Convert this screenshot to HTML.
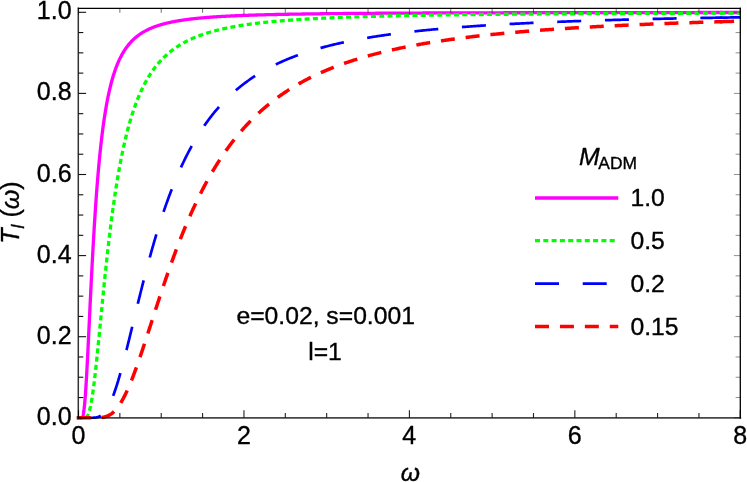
<!DOCTYPE html>
<html><head><meta charset="utf-8"><title>plot</title>
<style>
html,body{margin:0;padding:0;background:#fff;}
body{width:747px;height:482px;overflow:hidden;font-family:"Liberation Sans",sans-serif;}
svg{display:block;will-change:transform}
text{font-family:"Liberation Sans",sans-serif;fill:#000;stroke:#000;stroke-width:0.35px;}
</style></head><body>
<svg width="747" height="482" viewBox="0 0 747 482">
<rect x="0" y="0" width="747" height="482" fill="#fff"/>
<defs><clipPath id="cp"><rect x="76.0" y="8.3" width="664.3" height="411.5"/></clipPath></defs>

<g clip-path="url(#cp)" fill="none" stroke-linejoin="round">
<path d="M76.85,417.80 L78.50,417.80 L78.50,417.80 L78.50,417.80 L78.51,417.80 L78.51,417.80 L78.52,417.80 L78.53,417.80 L78.54,417.80 L78.55,417.80 L78.56,417.80 L78.58,417.80 L78.60,417.80 L78.61,417.80 L78.63,417.80 L78.66,417.80 L78.68,417.80 L78.70,417.80 L78.73,417.80 L78.76,417.80 L78.79,417.80 L78.82,417.80 L78.85,417.80 L78.89,417.80 L78.92,417.80 L78.96,417.80 L79.00,417.80 L79.04,417.80 L79.08,417.80 L79.12,417.80 L79.17,417.80 L79.22,417.80 L79.26,417.80 L79.32,417.80 L79.37,417.80 L79.42,417.80 L79.48,417.80 L79.53,417.80 L79.59,417.80 L79.65,417.80 L79.71,417.80 L79.77,417.80 L79.84,417.80 L79.90,417.80 L79.97,417.80 L80.04,417.80 L80.11,417.80 L80.18,417.80 L80.26,417.80 L80.33,417.80 L80.41,417.80 L80.49,417.80 L80.57,417.80 L80.65,417.80 L80.74,417.80 L80.82,417.79 L80.91,417.79 L81.00,417.79 L81.09,417.78 L81.18,417.77 L81.27,417.76 L81.37,417.74 L81.46,417.71 L81.56,417.68 L81.66,417.64 L81.76,417.59 L81.86,417.52 L81.97,417.43 L82.07,417.33 L82.18,417.21 L82.29,417.05 L82.40,416.87 L82.51,416.66 L82.63,416.40 L82.74,416.11 L82.86,415.77 L82.98,415.38 L83.10,414.93 L83.22,414.42 L83.34,413.85 L83.47,413.21 L83.59,412.49 L83.72,411.70 L83.85,410.82 L83.98,409.86 L84.12,408.81 L84.25,407.67 L84.39,406.43 L84.53,405.09 L84.66,403.65 L84.81,402.10 L84.95,400.45 L85.09,398.69 L85.24,396.83 L85.38,394.86 L85.53,392.78 L85.68,390.59 L85.84,388.29 L85.99,385.89 L86.15,383.38 L86.30,380.77 L86.46,378.06 L86.62,375.25 L86.78,372.34 L86.95,369.34 L87.11,366.25 L87.28,363.08 L87.44,359.82 L87.61,356.48 L87.78,353.07 L87.96,349.59 L88.13,346.05 L88.31,342.44 L88.49,338.77 L88.66,335.06 L88.85,331.29 L89.03,327.48 L89.21,323.63 L89.40,319.75 L89.58,315.83 L89.77,311.89 L89.96,307.93 L90.15,303.95 L90.35,299.95 L90.54,295.95 L90.74,291.94 L90.94,287.93 L91.14,283.92 L91.34,279.92 L91.54,275.92 L91.75,271.94 L91.95,267.97 L92.16,264.01 L92.37,260.08 L92.58,256.17 L92.79,252.29 L93.01,248.43 L93.22,244.60 L93.44,240.80 L93.66,237.04 L93.88,233.31 L94.10,229.62 L94.33,225.97 L94.55,222.35 L94.78,218.78 L95.01,215.25 L95.24,211.76 L95.47,208.31 L95.70,204.91 L95.94,201.55 L96.17,198.24 L96.41,194.98 L96.65,191.76 L96.89,188.58 L97.13,185.46 L97.38,182.38 L97.62,179.35 L97.87,176.37 L98.12,173.43 L98.37,170.54 L98.62,167.70 L98.88,164.91 L99.13,162.16 L99.39,159.46 L99.65,156.80 L99.91,154.19 L100.17,151.63 L100.44,149.11 L100.70,146.64 L100.97,144.21 L101.24,141.82 L101.51,139.48 L101.78,137.18 L102.05,134.92 L102.32,132.71 L102.60,130.53 L102.88,128.40 L103.16,126.30 L103.44,124.25 L103.72,122.23 L104.01,120.26 L104.29,118.32 L104.58,116.41 L104.87,114.55 L105.16,112.72 L105.45,110.92 L105.74,109.16 L106.04,107.44 L106.34,105.75 L106.63,104.09 L106.93,102.46 L107.24,100.86 L107.54,99.30 L107.84,97.76 L108.15,96.26 L108.46,94.79 L108.77,93.34 L109.08,91.92 L109.39,90.53 L109.71,89.17 L110.02,87.84 L110.34,86.53 L110.66,85.24 L110.98,83.99 L111.30,82.75 L111.63,81.54 L111.95,80.36 L112.28,79.20 L112.61,78.06 L112.94,76.94 L113.27,75.84 L113.60,74.77 L113.94,73.72 L114.28,72.68 L114.61,71.67 L114.95,70.68 L115.30,69.70 L115.64,68.75 L115.98,67.81 L116.33,66.89 L116.68,65.99 L117.03,65.11 L117.38,64.24 L117.73,63.40 L118.09,62.56 L118.44,61.74 L118.80,60.94 L119.16,60.16 L119.52,59.39 L119.88,58.63 L120.24,57.89 L120.61,57.16 L120.98,56.44 L121.35,55.74 L121.72,55.06 L122.09,54.38 L122.46,53.72 L122.84,53.07 L123.21,52.43 L123.59,51.80 L123.97,51.19 L124.35,50.59 L124.73,50.00 L125.12,49.42 L125.50,48.85 L125.89,48.29 L126.28,47.74 L126.67,47.20 L127.06,46.67 L127.46,46.15 L127.85,45.64 L128.25,45.14 L128.65,44.64 L129.05,44.16 L129.45,43.69 L129.86,43.22 L130.26,42.76 L130.67,42.31 L131.08,41.87 L131.49,41.44 L131.90,41.01 L132.31,40.59 L132.73,40.18 L133.14,39.78 L133.56,39.38 L133.98,38.99 L134.40,38.61 L134.82,38.23 L135.25,37.86 L135.67,37.50 L136.10,37.14 L136.53,36.79 L136.96,36.45 L137.39,36.11 L137.83,35.77 L138.26,35.45 L138.70,35.12 L139.14,34.81 L139.58,34.50 L140.02,34.19 L140.46,33.89 L140.91,33.59 L141.36,33.30 L141.80,33.02 L142.25,32.73 L142.70,32.46 L143.16,32.19 L143.61,31.92 L144.07,31.65 L144.53,31.40 L144.98,31.14 L145.45,30.89 L145.91,30.64 L146.37,30.40 L146.84,30.16 L147.31,29.93 L147.77,29.70 L148.24,29.47 L148.72,29.25 L149.19,29.03 L149.67,28.81 L150.14,28.60 L150.62,28.39 L151.10,28.18 L151.58,27.98 L152.07,27.78 L152.55,27.58 L153.04,27.39 L153.52,27.20 L154.01,27.01 L154.51,26.82 L155.00,26.64 L155.49,26.46 L155.99,26.29 L156.49,26.11 L156.99,25.94 L157.49,25.77 L157.99,25.61 L158.49,25.44 L159.00,25.28 L159.50,25.12 L160.01,24.97 L160.52,24.81 L161.04,24.66 L161.55,24.51 L162.06,24.36 L162.58,24.22 L163.10,24.08 L163.62,23.94 L164.14,23.80 L164.66,23.66 L165.19,23.53 L165.71,23.39 L166.24,23.26 L166.77,23.14 L167.30,23.01 L167.83,22.88 L168.37,22.76 L168.90,22.64 L169.44,22.52 L169.98,22.40 L170.52,22.28 L171.06,22.17 L171.61,22.06 L172.15,21.94 L172.70,21.84 L173.25,21.73 L173.80,21.62 L174.35,21.51 L174.90,21.41 L175.46,21.31 L176.01,21.21 L176.57,21.11 L177.13,21.01 L177.69,20.91 L178.25,20.82 L178.82,20.72 L179.39,20.63 L179.95,20.54 L180.52,20.45 L181.09,20.36 L181.67,20.27 L182.24,20.18 L182.81,20.10 L183.39,20.01 L183.97,19.93 L184.55,19.85 L185.13,19.77 L185.72,19.69 L186.30,19.61 L186.89,19.53 L187.48,19.45 L188.07,19.38 L188.66,19.30 L189.25,19.23 L189.85,19.16 L190.44,19.08 L191.04,19.01 L191.64,18.94 L192.24,18.87 L192.84,18.80 L193.45,18.74 L194.05,18.67 L194.66,18.60 L195.27,18.54 L195.88,18.48 L196.49,18.41 L197.10,18.35 L197.72,18.29 L198.34,18.23 L198.96,18.17 L199.58,18.11 L200.20,18.05 L200.82,17.99 L201.45,17.93 L202.07,17.88 L202.70,17.82 L203.33,17.77 L203.96,17.71 L204.59,17.66 L205.23,17.61 L205.86,17.55 L206.50,17.50 L207.14,17.45 L207.78,17.40 L208.42,17.35 L209.07,17.30 L209.71,17.25 L210.36,17.20 L211.01,17.16 L211.66,17.11 L212.31,17.06 L212.97,17.02 L213.62,16.97 L214.28,16.93 L214.94,16.88 L215.60,16.84 L216.26,16.80 L216.92,16.75 L217.59,16.71 L218.25,16.67 L218.92,16.63 L219.59,16.59 L220.26,16.55 L220.93,16.51 L221.61,16.47 L222.28,16.43 L222.96,16.39 L223.64,16.35 L224.32,16.32 L225.00,16.28 L225.69,16.24 L226.37,16.21 L227.06,16.17 L227.75,16.13 L228.44,16.10 L229.13,16.07 L229.82,16.03 L230.52,16.00 L231.21,15.96 L231.91,15.93 L232.61,15.90 L233.31,15.87 L234.02,15.83 L234.72,15.80 L235.43,15.77 L236.13,15.74 L236.84,15.71 L237.55,15.68 L238.27,15.65 L238.98,15.62 L239.70,15.59 L240.41,15.56 L241.13,15.53 L241.85,15.50 L242.57,15.48 L243.30,15.45 L244.02,15.42 L244.75,15.39 L245.48,15.37 L246.21,15.34 L246.94,15.31 L247.67,15.29 L248.41,15.26 L249.14,15.24 L249.88,15.21 L250.62,15.19 L251.36,15.16 L252.10,15.14 L252.85,15.11 L253.59,15.09 L254.34,15.07 L255.09,15.04 L255.84,15.02 L256.59,15.00 L257.35,14.98 L258.10,14.95 L258.86,14.93 L259.62,14.91 L260.38,14.89 L261.14,14.87 L261.90,14.84 L262.67,14.82 L263.44,14.80 L264.20,14.78 L264.97,14.76 L265.75,14.74 L266.52,14.72 L267.29,14.70 L268.07,14.68 L268.85,14.66 L269.63,14.64 L270.41,14.63 L271.19,14.61 L271.97,14.59 L272.76,14.57 L273.55,14.55 L274.34,14.53 L275.13,14.52 L275.92,14.50 L276.71,14.48 L277.51,14.46 L278.30,14.45 L279.10,14.43 L279.90,14.41 L280.70,14.40 L281.51,14.38 L282.31,14.36 L283.12,14.35 L283.93,14.33 L284.74,14.31 L285.55,14.30 L286.36,14.28 L287.17,14.27 L287.99,14.25 L288.81,14.24 L289.63,14.22 L290.45,14.21 L291.27,14.19 L292.09,14.18 L292.92,14.16 L293.75,14.15 L294.57,14.14 L295.40,14.12 L296.24,14.11 L297.07,14.09 L297.91,14.08 L298.74,14.07 L299.58,14.05 L300.42,14.04 L301.26,14.03 L302.10,14.01 L302.95,14.00 L303.79,13.99 L304.64,13.98 L305.49,13.96 L306.34,13.95 L307.20,13.94 L308.05,13.93 L308.91,13.91 L309.76,13.90 L310.62,13.89 L311.48,13.88 L312.34,13.87 L313.21,13.86 L314.07,13.85 L314.94,13.83 L315.81,13.82 L316.68,13.81 L317.55,13.80 L318.42,13.79 L319.30,13.78 L320.17,13.77 L321.05,13.76 L321.93,13.75 L322.81,13.74 L323.70,13.73 L324.58,13.72 L325.47,13.71 L326.35,13.70 L327.24,13.69 L328.13,13.68 L329.03,13.67 L329.92,13.66 L330.82,13.65 L331.71,13.64 L332.61,13.63 L333.51,13.62 L334.41,13.61 L335.32,13.60 L336.22,13.59 L337.13,13.58 L338.04,13.57 L338.95,13.56 L339.86,13.56 L340.77,13.55 L341.69,13.54 L342.60,13.53 L343.52,13.52 L344.44,13.51 L345.36,13.50 L346.28,13.50 L347.21,13.49 L348.13,13.48 L349.06,13.47 L349.99,13.46 L350.92,13.46 L351.85,13.45 L352.79,13.44 L353.72,13.43 L354.66,13.43 L355.60,13.42 L356.54,13.41 L357.48,13.40 L358.42,13.40 L359.37,13.39 L360.31,13.38 L361.26,13.37 L362.21,13.37 L363.16,13.36 L364.12,13.35 L365.07,13.34 L366.03,13.34 L366.98,13.33 L367.94,13.32 L368.90,13.32 L369.87,13.31 L370.83,13.30 L371.80,13.30 L372.76,13.29 L373.73,13.28 L374.70,13.28 L375.67,13.27 L376.65,13.27 L377.62,13.26 L378.60,13.25 L379.58,13.25 L380.56,13.24 L381.54,13.23 L382.52,13.23 L383.51,13.22 L384.49,13.22 L385.48,13.21 L386.47,13.20 L387.46,13.20 L388.45,13.19 L389.45,13.19 L390.44,13.18 L391.44,13.18 L392.44,13.17 L393.44,13.17 L394.44,13.16 L395.45,13.15 L396.45,13.15 L397.46,13.14 L398.47,13.14 L399.48,13.13 L400.49,13.13 L401.50,13.12 L402.52,13.12 L403.53,13.11 L404.55,13.11 L405.57,13.10 L406.59,13.10 L407.62,13.09 L408.64,13.09 L409.67,13.08 L410.69,13.08 L411.72,13.07 L412.76,13.07 L413.79,13.06 L414.82,13.06 L415.86,13.05 L416.89,13.05 L417.93,13.05 L418.97,13.04 L420.02,13.04 L421.06,13.03 L422.10,13.03 L423.15,13.02 L424.20,13.02 L425.25,13.01 L426.30,13.01 L427.35,13.01 L428.41,13.00 L429.47,13.00 L430.52,12.99 L431.58,12.99 L432.64,12.98 L433.71,12.98 L434.77,12.98 L435.84,12.97 L436.90,12.97 L437.97,12.96 L439.04,12.96 L440.12,12.96 L441.19,12.95 L442.27,12.95 L443.34,12.95 L444.42,12.94 L445.50,12.94 L446.58,12.93 L447.67,12.93 L448.75,12.93 L449.84,12.92 L450.93,12.92 L452.02,12.92 L453.11,12.91 L454.20,12.91 L455.29,12.90 L456.39,12.90 L457.49,12.90 L458.59,12.89 L459.69,12.89 L460.79,12.89 L461.90,12.88 L463.00,12.88 L464.11,12.88 L465.22,12.87 L466.33,12.87 L467.44,12.87 L468.55,12.86 L469.67,12.86 L470.79,12.86 L471.90,12.85 L473.02,12.85 L474.15,12.85 L475.27,12.85 L476.39,12.84 L477.52,12.84 L478.65,12.84 L479.78,12.83 L480.91,12.83 L482.04,12.83 L483.18,12.82 L484.31,12.82 L485.45,12.82 L486.59,12.82 L487.73,12.81 L488.87,12.81 L490.02,12.81 L491.16,12.80 L492.31,12.80 L493.46,12.80 L494.61,12.80 L495.76,12.79 L496.91,12.79 L498.07,12.79 L499.22,12.79 L500.38,12.78 L501.54,12.78 L502.70,12.78 L503.87,12.77 L505.03,12.77 L506.20,12.77 L507.36,12.77 L508.53,12.76 L509.70,12.76 L510.88,12.76 L512.05,12.76 L513.23,12.75 L514.40,12.75 L515.58,12.75 L516.76,12.75 L517.95,12.74 L519.13,12.74 L520.32,12.74 L521.50,12.74 L522.69,12.74 L523.88,12.73 L525.07,12.73 L526.27,12.73 L527.46,12.73 L528.66,12.72 L529.85,12.72 L531.05,12.72 L532.26,12.72 L533.46,12.72 L534.66,12.71 L535.87,12.71 L537.08,12.71 L538.29,12.71 L539.50,12.70 L540.71,12.70 L541.92,12.70 L543.14,12.70 L544.36,12.70 L545.57,12.69 L546.79,12.69 L548.02,12.69 L549.24,12.69 L550.46,12.69 L551.69,12.68 L552.92,12.68 L554.15,12.68 L555.38,12.68 L556.61,12.68 L557.85,12.67 L559.08,12.67 L560.32,12.67 L561.56,12.67 L562.80,12.67 L564.05,12.66 L565.29,12.66 L566.54,12.66 L567.78,12.66 L569.03,12.66 L570.28,12.66 L571.53,12.65 L572.79,12.65 L574.04,12.65 L575.30,12.65 L576.56,12.65 L577.82,12.64 L579.08,12.64 L580.34,12.64 L581.61,12.64 L582.88,12.64 L584.14,12.64 L585.41,12.63 L586.68,12.63 L587.96,12.63 L589.23,12.63 L590.51,12.63 L591.79,12.63 L593.06,12.62 L594.35,12.62 L595.63,12.62 L596.91,12.62 L598.20,12.62 L599.48,12.62 L600.77,12.61 L602.06,12.61 L603.36,12.61 L604.65,12.61 L605.94,12.61 L607.24,12.61 L608.54,12.61 L609.84,12.60 L611.14,12.60 L612.44,12.60 L613.75,12.60 L615.05,12.60 L616.36,12.60 L617.67,12.60 L618.98,12.59 L620.30,12.59 L621.61,12.59 L622.93,12.59 L624.24,12.59 L625.56,12.59 L626.88,12.59 L628.21,12.58 L629.53,12.58 L630.85,12.58 L632.18,12.58 L633.51,12.58 L634.84,12.58 L636.17,12.58 L637.51,12.57 L638.84,12.57 L640.18,12.57 L641.51,12.57 L642.85,12.57 L644.20,12.57 L645.54,12.57 L646.88,12.57 L648.23,12.56 L649.58,12.56 L650.93,12.56 L652.28,12.56 L653.63,12.56 L654.98,12.56 L656.34,12.56 L657.70,12.56 L659.06,12.55 L660.42,12.55 L661.78,12.55 L663.14,12.55 L664.51,12.55 L665.87,12.55 L667.24,12.55 L668.61,12.55 L669.98,12.55 L671.36,12.54 L672.73,12.54 L674.11,12.54 L675.49,12.54 L676.86,12.54 L678.25,12.54 L679.63,12.54 L681.01,12.54 L682.40,12.54 L683.79,12.53 L685.18,12.53 L686.57,12.53 L687.96,12.53 L689.35,12.53 L690.75,12.53 L692.14,12.53 L693.54,12.53 L694.94,12.53 L696.35,12.53 L697.75,12.52 L699.15,12.52 L700.56,12.52 L701.97,12.52 L703.38,12.52 L704.79,12.52 L706.20,12.52 L707.62,12.52 L709.03,12.52 L710.45,12.52 L711.87,12.51 L713.29,12.51 L714.71,12.51 L716.14,12.51 L717.56,12.51 L718.99,12.51 L720.42,12.51 L721.85,12.51" stroke="#ff00ff" stroke-width="3.3"/>
<path d="M720.20,12.51 L722.40,12.51 L724.61,12.51 L726.81,12.50 L729.01,12.50 L731.22,12.50 L733.42,12.50 L735.62,12.50 L737.83,12.50 L740.03,12.50 L742.23,12.50 L744.44,12.49" stroke="#ff00ff" stroke-width="3.3"/>
<path d="M76.85,417.80 L78.50,417.80 L78.50,417.80 L78.50,417.80 L78.51,417.80 L78.51,417.80 L78.52,417.80 L78.53,417.80 L78.54,417.80 L78.55,417.80 L78.56,417.80 L78.58,417.80 L78.60,417.80 L78.61,417.80 L78.63,417.80 L78.66,417.80 L78.68,417.80 L78.70,417.80 L78.73,417.80 L78.76,417.80 L78.79,417.80 L78.82,417.80 L78.85,417.80 L78.89,417.80 L78.92,417.80 L78.96,417.80 L79.00,417.80 L79.04,417.80 L79.08,417.80 L79.12,417.80 L79.17,417.80 L79.22,417.80 L79.26,417.80 L79.32,417.80 L79.37,417.80 L79.42,417.80 L79.48,417.80 L79.53,417.80 L79.59,417.80 L79.65,417.80 L79.71,417.80 L79.77,417.80 L79.84,417.80 L79.90,417.80 L79.97,417.80 L80.04,417.80 L80.11,417.80 L80.18,417.80 L80.26,417.80 L80.33,417.80 L80.41,417.80 L80.49,417.80 L80.57,417.80 L80.65,417.80 L80.74,417.80 L80.82,417.80 L80.91,417.80 L81.00,417.80 L81.09,417.80 L81.18,417.80 L81.27,417.80 L81.37,417.80 L81.46,417.80 L81.56,417.80 L81.66,417.80 L81.76,417.80 L81.86,417.80 L81.97,417.80 L82.07,417.80 L82.18,417.80 L82.29,417.80 L82.40,417.80 L82.51,417.80 L82.63,417.80 L82.74,417.80 L82.86,417.80 L82.98,417.80 L83.10,417.80 L83.22,417.79 L83.34,417.79 L83.47,417.79 L83.59,417.79 L83.72,417.78 L83.85,417.77 L83.98,417.77 L84.12,417.76 L84.25,417.75 L84.39,417.73 L84.53,417.71 L84.66,417.69 L84.81,417.67 L84.95,417.63 L85.09,417.60 L85.24,417.55 L85.38,417.50 L85.53,417.44 L85.68,417.37 L85.84,417.29 L85.99,417.20 L86.15,417.10 L86.30,416.98 L86.46,416.85 L86.62,416.70 L86.78,416.53 L86.95,416.34 L87.11,416.13 L87.28,415.90 L87.44,415.65 L87.61,415.37 L87.78,415.06 L87.96,414.72 L88.13,414.35 L88.31,413.95 L88.49,413.52 L88.66,413.05 L88.85,412.54 L89.03,412.00 L89.21,411.42 L89.40,410.79 L89.58,410.12 L89.77,409.41 L89.96,408.66 L90.15,407.86 L90.35,407.01 L90.54,406.11 L90.74,405.17 L90.94,404.17 L91.14,403.12 L91.34,402.03 L91.54,400.88 L91.75,399.67 L91.95,398.42 L92.16,397.11 L92.37,395.75 L92.58,394.34 L92.79,392.87 L93.01,391.35 L93.22,389.78 L93.44,388.15 L93.66,386.47 L93.88,384.74 L94.10,382.96 L94.33,381.13 L94.55,379.25 L94.78,377.32 L95.01,375.34 L95.24,373.32 L95.47,371.24 L95.70,369.13 L95.94,366.97 L96.17,364.76 L96.41,362.52 L96.65,360.23 L96.89,357.91 L97.13,355.55 L97.38,353.15 L97.62,350.72 L97.87,348.25 L98.12,345.76 L98.37,343.23 L98.62,340.67 L98.88,338.09 L99.13,335.48 L99.39,332.85 L99.65,330.19 L99.91,327.52 L100.17,324.82 L100.44,322.11 L100.70,319.38 L100.97,316.64 L101.24,313.88 L101.51,311.11 L101.78,308.33 L102.05,305.55 L102.32,302.75 L102.60,299.95 L102.88,297.14 L103.16,294.33 L103.44,291.52 L103.72,288.71 L104.01,285.90 L104.29,283.09 L104.58,280.28 L104.87,277.48 L105.16,274.68 L105.45,271.89 L105.74,269.10 L106.04,266.32 L106.34,263.56 L106.63,260.80 L106.93,258.05 L107.24,255.32 L107.54,252.59 L107.84,249.88 L108.15,247.19 L108.46,244.51 L108.77,241.84 L109.08,239.19 L109.39,236.56 L109.71,233.95 L110.02,231.35 L110.34,228.77 L110.66,226.21 L110.98,223.67 L111.30,221.15 L111.63,218.65 L111.95,216.17 L112.28,213.71 L112.61,211.27 L112.94,208.86 L113.27,206.46 L113.60,204.09 L113.94,201.74 L114.28,199.41 L114.61,197.10 L114.95,194.82 L115.30,192.56 L115.64,190.32 L115.98,188.11 L116.33,185.92 L116.68,183.75 L117.03,181.61 L117.38,179.49 L117.73,177.39 L118.09,175.31 L118.44,173.26 L118.80,171.23 L119.16,169.23 L119.52,167.25 L119.88,165.29 L120.24,163.35 L120.61,161.44 L120.98,159.55 L121.35,157.68 L121.72,155.83 L122.09,154.01 L122.46,152.21 L122.84,150.43 L123.21,148.68 L123.59,146.94 L123.97,145.23 L124.35,143.54 L124.73,141.87 L125.12,140.23 L125.50,138.60 L125.89,136.99 L126.28,135.41 L126.67,133.84 L127.06,132.30 L127.46,130.78 L127.85,129.27 L128.25,127.79 L128.65,126.32 L129.05,124.88 L129.45,123.45 L129.86,122.05 L130.26,120.66 L130.67,119.29 L131.08,117.94 L131.49,116.61 L131.90,115.29 L132.31,113.99 L132.73,112.72 L133.14,111.45 L133.56,110.21 L133.98,108.98 L134.40,107.77 L134.82,106.57 L135.25,105.40 L135.67,104.23 L136.10,103.09 L136.53,101.96 L136.96,100.84 L137.39,99.74 L137.83,98.66 L138.26,97.59 L138.70,96.53 L139.14,95.49 L139.58,94.47 L140.02,93.45 L140.46,92.46 L140.91,91.47 L141.36,90.50 L141.80,89.54 L142.25,88.60 L142.70,87.67 L143.16,86.75 L143.61,85.84 L144.07,84.95 L144.53,84.07 L144.98,83.20 L145.45,82.34 L145.91,81.50 L146.37,80.67 L146.84,79.84 L147.31,79.03 L147.77,78.24 L148.24,77.45 L148.72,76.67 L149.19,75.90 L149.67,75.15 L150.14,74.40 L150.62,73.67 L151.10,72.94 L151.58,72.22 L152.07,71.52 L152.55,70.82 L153.04,70.14 L153.52,69.46 L154.01,68.79 L154.51,68.13 L155.00,67.48 L155.49,66.84 L155.99,66.21 L156.49,65.58 L156.99,64.97 L157.49,64.36 L157.99,63.76 L158.49,63.17 L159.00,62.59 L159.50,62.01 L160.01,61.45 L160.52,60.89 L161.04,60.33 L161.55,59.79 L162.06,59.25 L162.58,58.72 L163.10,58.20 L163.62,57.68 L164.14,57.17 L164.66,56.67 L165.19,56.18 L165.71,55.69 L166.24,55.20 L166.77,54.73 L167.30,54.26 L167.83,53.79 L168.37,53.33 L168.90,52.88 L169.44,52.44 L169.98,52.00 L170.52,51.56 L171.06,51.13 L171.61,50.71 L172.15,50.29 L172.70,49.88 L173.25,49.47 L173.80,49.07 L174.35,48.68 L174.90,48.28 L175.46,47.90 L176.01,47.52 L176.57,47.14 L177.13,46.77 L177.69,46.40 L178.25,46.04 L178.82,45.68 L179.39,45.33 L179.95,44.98 L180.52,44.64 L181.09,44.30 L181.67,43.96 L182.24,43.63 L182.81,43.31 L183.39,42.98 L183.97,42.66 L184.55,42.35 L185.13,42.04 L185.72,41.73 L186.30,41.43 L186.89,41.13 L187.48,40.83 L188.07,40.54 L188.66,40.25 L189.25,39.97 L189.85,39.69 L190.44,39.41 L191.04,39.13 L191.64,38.86 L192.24,38.60 L192.84,38.33 L193.45,38.07 L194.05,37.81 L194.66,37.56 L195.27,37.31 L195.88,37.06 L196.49,36.81 L197.10,36.57 L197.72,36.33 L198.34,36.09 L198.96,35.86 L199.58,35.63 L200.20,35.40 L200.82,35.17 L201.45,34.95 L202.07,34.73 L202.70,34.51 L203.33,34.29 L203.96,34.08 L204.59,33.87 L205.23,33.66 L205.86,33.46 L206.50,33.26 L207.14,33.05 L207.78,32.86 L208.42,32.66 L209.07,32.47 L209.71,32.28 L210.36,32.09 L211.01,31.90 L211.66,31.71 L212.31,31.53 L212.97,31.35 L213.62,31.17 L214.28,31.00 L214.94,30.82 L215.60,30.65 L216.26,30.48 L216.92,30.31 L217.59,30.14 L218.25,29.98 L218.92,29.82 L219.59,29.65 L220.26,29.50 L220.93,29.34 L221.61,29.18 L222.28,29.03 L222.96,28.88 L223.64,28.73 L224.32,28.58 L225.00,28.43 L225.69,28.28 L226.37,28.14 L227.06,28.00 L227.75,27.86 L228.44,27.72 L229.13,27.58 L229.82,27.44 L230.52,27.31 L231.21,27.18 L231.91,27.04 L232.61,26.91 L233.31,26.78 L234.02,26.66 L234.72,26.53 L235.43,26.41 L236.13,26.28 L236.84,26.16 L237.55,26.04 L238.27,25.92 L238.98,25.80 L239.70,25.69 L240.41,25.57 L241.13,25.46 L241.85,25.34 L242.57,25.23 L243.30,25.12 L244.02,25.01 L244.75,24.90 L245.48,24.79 L246.21,24.69 L246.94,24.58 L247.67,24.48 L248.41,24.37 L249.14,24.27 L249.88,24.17 L250.62,24.07 L251.36,23.97 L252.10,23.88 L252.85,23.78 L253.59,23.68 L254.34,23.59 L255.09,23.49 L255.84,23.40 L256.59,23.31 L257.35,23.22 L258.10,23.13 L258.86,23.04 L259.62,22.95 L260.38,22.86 L261.14,22.78 L261.90,22.69 L262.67,22.61 L263.44,22.52 L264.20,22.44 L264.97,22.36 L265.75,22.28 L266.52,22.20 L267.29,22.12 L268.07,22.04 L268.85,21.96 L269.63,21.88 L270.41,21.81 L271.19,21.73 L271.97,21.65 L272.76,21.58 L273.55,21.51 L274.34,21.43 L275.13,21.36 L275.92,21.29 L276.71,21.22 L277.51,21.15 L278.30,21.08 L279.10,21.01 L279.90,20.94 L280.70,20.88 L281.51,20.81 L282.31,20.74 L283.12,20.68 L283.93,20.61 L284.74,20.55 L285.55,20.48 L286.36,20.42 L287.17,20.36 L287.99,20.30 L288.81,20.24 L289.63,20.18 L290.45,20.12 L291.27,20.06 L292.09,20.00 L292.92,19.94 L293.75,19.88 L294.57,19.82 L295.40,19.77 L296.24,19.71 L297.07,19.65 L297.91,19.60 L298.74,19.54 L299.58,19.49 L300.42,19.44 L301.26,19.38 L302.10,19.33 L302.95,19.28 L303.79,19.23 L304.64,19.18 L305.49,19.12 L306.34,19.07 L307.20,19.02 L308.05,18.98 L308.91,18.93 L309.76,18.88 L310.62,18.83 L311.48,18.78 L312.34,18.74 L313.21,18.69 L314.07,18.64 L314.94,18.60 L315.81,18.55 L316.68,18.51 L317.55,18.46 L318.42,18.42 L319.30,18.37 L320.17,18.33 L321.05,18.29 L321.93,18.24 L322.81,18.20 L323.70,18.16 L324.58,18.12 L325.47,18.08 L326.35,18.03 L327.24,17.99 L328.13,17.95 L329.03,17.91 L329.92,17.87 L330.82,17.84 L331.71,17.80 L332.61,17.76 L333.51,17.72 L334.41,17.68 L335.32,17.64 L336.22,17.61 L337.13,17.57 L338.04,17.53 L338.95,17.50 L339.86,17.46 L340.77,17.43 L341.69,17.39 L342.60,17.36 L343.52,17.32 L344.44,17.29 L345.36,17.25 L346.28,17.22 L347.21,17.19 L348.13,17.15 L349.06,17.12 L349.99,17.09 L350.92,17.05 L351.85,17.02 L352.79,16.99 L353.72,16.96 L354.66,16.93 L355.60,16.90 L356.54,16.87 L357.48,16.84 L358.42,16.81 L359.37,16.78 L360.31,16.75 L361.26,16.72 L362.21,16.69 L363.16,16.66 L364.12,16.63 L365.07,16.60 L366.03,16.57 L366.98,16.54 L367.94,16.52 L368.90,16.49 L369.87,16.46 L370.83,16.43 L371.80,16.41 L372.76,16.38 L373.73,16.35 L374.70,16.33 L375.67,16.30 L376.65,16.27 L377.62,16.25 L378.60,16.22 L379.58,16.20 L380.56,16.17 L381.54,16.15 L382.52,16.12 L383.51,16.10 L384.49,16.07 L385.48,16.05 L386.47,16.03 L387.46,16.00 L388.45,15.98 L389.45,15.96 L390.44,15.93 L391.44,15.91 L392.44,15.89 L393.44,15.86 L394.44,15.84 L395.45,15.82 L396.45,15.80 L397.46,15.78 L398.47,15.75 L399.48,15.73 L400.49,15.71 L401.50,15.69 L402.52,15.67 L403.53,15.65 L404.55,15.63 L405.57,15.61 L406.59,15.59 L407.62,15.57 L408.64,15.55 L409.67,15.53 L410.69,15.51 L411.72,15.49 L412.76,15.47 L413.79,15.45 L414.82,15.43 L415.86,15.41 L416.89,15.39 L417.93,15.37 L418.97,15.35 L420.02,15.33 L421.06,15.32 L422.10,15.30 L423.15,15.28 L424.20,15.26 L425.25,15.24 L426.30,15.23 L427.35,15.21 L428.41,15.19 L429.47,15.17 L430.52,15.16 L431.58,15.14 L432.64,15.12 L433.71,15.11 L434.77,15.09 L435.84,15.07 L436.90,15.06 L437.97,15.04 L439.04,15.02 L440.12,15.01 L441.19,14.99 L442.27,14.98 L443.34,14.96 L444.42,14.94 L445.50,14.93 L446.58,14.91 L447.67,14.90 L448.75,14.88 L449.84,14.87 L450.93,14.85 L452.02,14.84 L453.11,14.82 L454.20,14.81 L455.29,14.79 L456.39,14.78 L457.49,14.77 L458.59,14.75 L459.69,14.74 L460.79,14.72 L461.90,14.71 L463.00,14.70 L464.11,14.68 L465.22,14.67 L466.33,14.66 L467.44,14.64 L468.55,14.63 L469.67,14.62 L470.79,14.60 L471.90,14.59 L473.02,14.58 L474.15,14.56 L475.27,14.55 L476.39,14.54 L477.52,14.53 L478.65,14.51 L479.78,14.50 L480.91,14.49 L482.04,14.48 L483.18,14.46 L484.31,14.45 L485.45,14.44 L486.59,14.43 L487.73,14.42 L488.87,14.40 L490.02,14.39 L491.16,14.38 L492.31,14.37 L493.46,14.36 L494.61,14.35 L495.76,14.34 L496.91,14.32 L498.07,14.31 L499.22,14.30 L500.38,14.29 L501.54,14.28 L502.70,14.27 L503.87,14.26 L505.03,14.25 L506.20,14.24 L507.36,14.23 L508.53,14.22 L509.70,14.21 L510.88,14.20 L512.05,14.19 L513.23,14.18 L514.40,14.17 L515.58,14.16 L516.76,14.15 L517.95,14.14 L519.13,14.13 L520.32,14.12 L521.50,14.11 L522.69,14.10 L523.88,14.09 L525.07,14.08 L526.27,14.07 L527.46,14.06 L528.66,14.05 L529.85,14.04 L531.05,14.03 L532.26,14.02 L533.46,14.01 L534.66,14.00 L535.87,14.00 L537.08,13.99 L538.29,13.98 L539.50,13.97 L540.71,13.96 L541.92,13.95 L543.14,13.94 L544.36,13.93 L545.57,13.93 L546.79,13.92 L548.02,13.91 L549.24,13.90 L550.46,13.89 L551.69,13.88 L552.92,13.88 L554.15,13.87 L555.38,13.86 L556.61,13.85 L557.85,13.84 L559.08,13.84 L560.32,13.83 L561.56,13.82 L562.80,13.81 L564.05,13.80 L565.29,13.80 L566.54,13.79 L567.78,13.78 L569.03,13.77 L570.28,13.77 L571.53,13.76 L572.79,13.75 L574.04,13.74 L575.30,13.74 L576.56,13.73 L577.82,13.72 L579.08,13.72 L580.34,13.71 L581.61,13.70 L582.88,13.69 L584.14,13.69 L585.41,13.68 L586.68,13.67 L587.96,13.67 L589.23,13.66 L590.51,13.65 L591.79,13.65 L593.06,13.64 L594.35,13.63 L595.63,13.63 L596.91,13.62 L598.20,13.61 L599.48,13.61 L600.77,13.60 L602.06,13.59 L603.36,13.59 L604.65,13.58 L605.94,13.58 L607.24,13.57 L608.54,13.56 L609.84,13.56 L611.14,13.55 L612.44,13.54 L613.75,13.54 L615.05,13.53 L616.36,13.53 L617.67,13.52 L618.98,13.52 L620.30,13.51 L621.61,13.50 L622.93,13.50 L624.24,13.49 L625.56,13.49 L626.88,13.48 L628.21,13.47 L629.53,13.47 L630.85,13.46 L632.18,13.46 L633.51,13.45 L634.84,13.45 L636.17,13.44 L637.51,13.44 L638.84,13.43 L640.18,13.43 L641.51,13.42 L642.85,13.41 L644.20,13.41 L645.54,13.40 L646.88,13.40 L648.23,13.39 L649.58,13.39 L650.93,13.38 L652.28,13.38 L653.63,13.37 L654.98,13.37 L656.34,13.36 L657.70,13.36 L659.06,13.35 L660.42,13.35 L661.78,13.34 L663.14,13.34 L664.51,13.33 L665.87,13.33 L667.24,13.32 L668.61,13.32 L669.98,13.31 L671.36,13.31 L672.73,13.31 L674.11,13.30 L675.49,13.30 L676.86,13.29 L678.25,13.29 L679.63,13.28 L681.01,13.28 L682.40,13.27 L683.79,13.27 L685.18,13.26 L686.57,13.26 L687.96,13.26 L689.35,13.25 L690.75,13.25 L692.14,13.24 L693.54,13.24 L694.94,13.23 L696.35,13.23 L697.75,13.23 L699.15,13.22 L700.56,13.22 L701.97,13.21 L703.38,13.21 L704.79,13.21 L706.20,13.20 L707.62,13.20 L709.03,13.19 L710.45,13.19 L711.87,13.19 L713.29,13.18 L714.71,13.18 L716.14,13.17 L717.56,13.17 L718.99,13.17 L720.42,13.16 L721.85,13.16" stroke="#00ff00" stroke-width="3.3" stroke-dasharray="5 3.30"/>
<path d="M720.20,13.16 L722.40,13.16 L724.61,13.15 L726.81,13.15 L729.01,13.14 L731.22,13.13 L733.42,13.13 L735.62,13.12 L737.83,13.12 L740.03,13.11 L742.23,13.11 L744.44,13.10" stroke="#00ff00" stroke-width="3.3" stroke-dasharray="5 3.30"/>
<path d="M77.15,417.80 L78.50,417.80 L78.50,417.80 L78.50,417.80 L78.51,417.80 L78.51,417.80 L78.52,417.80 L78.53,417.80 L78.54,417.80 L78.55,417.80 L78.56,417.80 L78.58,417.80 L78.60,417.80 L78.61,417.80 L78.63,417.80 L78.66,417.80 L78.68,417.80 L78.70,417.80 L78.73,417.80 L78.76,417.80 L78.79,417.80 L78.82,417.80 L78.85,417.80 L78.89,417.80 L78.92,417.80 L78.96,417.80 L79.00,417.80 L79.04,417.80 L79.08,417.80 L79.12,417.80 L79.17,417.80 L79.22,417.80 L79.26,417.80 L79.32,417.80 L79.37,417.80 L79.42,417.80 L79.48,417.80 L79.53,417.80 L79.59,417.80 L79.65,417.80 L79.71,417.80 L79.77,417.80 L79.84,417.80 L79.90,417.80 L79.97,417.80 L80.04,417.80 L80.11,417.80 L80.18,417.80 L80.26,417.80 L80.33,417.80 L80.41,417.80 L80.49,417.80 L80.57,417.80 L80.65,417.80 L80.74,417.80 L80.82,417.80 L80.91,417.80 L81.00,417.80 L81.09,417.80 L81.18,417.80 L81.27,417.80 L81.37,417.80 L81.46,417.80 L81.56,417.80 L81.66,417.80 L81.76,417.80 L81.86,417.80 L81.97,417.80 L82.07,417.80 L82.18,417.80 L82.29,417.80 L82.40,417.80 L82.51,417.80 L82.63,417.80 L82.74,417.80 L82.86,417.80 L82.98,417.80 L83.10,417.80 L83.22,417.80 L83.34,417.80 L83.47,417.80 L83.59,417.80 L83.72,417.80 L83.85,417.80 L83.98,417.80 L84.12,417.80 L84.25,417.80 L84.39,417.80 L84.53,417.80 L84.66,417.80 L84.81,417.80 L84.95,417.80 L85.09,417.80 L85.24,417.80 L85.38,417.80 L85.53,417.80 L85.68,417.80 L85.84,417.80 L85.99,417.80 L86.15,417.80 L86.30,417.80 L86.46,417.80 L86.62,417.80 L86.78,417.80 L86.95,417.80 L87.11,417.80 L87.28,417.80 L87.44,417.80 L87.61,417.80 L87.78,417.80 L87.96,417.80 L88.13,417.80 L88.31,417.80 L88.49,417.80 L88.66,417.80 L88.85,417.80 L89.03,417.80 L89.21,417.80 L89.40,417.80 L89.58,417.80 L89.77,417.80 L89.96,417.80 L90.15,417.80 L90.35,417.79 L90.54,417.79 L90.74,417.79 L90.94,417.79 L91.14,417.79 L91.34,417.78 L91.54,417.78 L91.75,417.78 L91.95,417.77 L92.16,417.77 L92.37,417.76 L92.58,417.76 L92.79,417.75 L93.01,417.74 L93.22,417.73 L93.44,417.72 L93.66,417.71 L93.88,417.69 L94.10,417.68 L94.33,417.66 L94.55,417.64 L94.78,417.62 L95.01,417.59 L95.24,417.57 L95.47,417.54 L95.70,417.50 L95.94,417.47 L96.17,417.43 L96.41,417.38 L96.65,417.34 L96.89,417.28 L97.13,417.23 L97.38,417.16 L97.62,417.10 L97.87,417.02 L98.12,416.94 L98.37,416.86 L98.62,416.77 L98.88,416.67 L99.13,416.56 L99.39,416.45 L99.65,416.33 L99.91,416.19 L100.17,416.06 L100.44,415.91 L100.70,415.75 L100.97,415.58 L101.24,415.40 L101.51,415.21 L101.78,415.01 L102.05,414.80 L102.32,414.57 L102.60,414.33 L102.88,414.08 L103.16,413.82 L103.44,413.54 L103.72,413.25 L104.01,412.95 L104.29,412.63 L104.58,412.29 L104.87,411.94 L105.16,411.57 L105.45,411.19 L105.74,410.79 L106.04,410.37 L106.34,409.94 L106.63,409.49 L106.93,409.02 L107.24,408.53 L107.54,408.02 L107.84,407.50 L108.15,406.95 L108.46,406.39 L108.77,405.81 L109.08,405.20 L109.39,404.58 L109.71,403.94 L110.02,403.27 L110.34,402.59 L110.66,401.89 L110.98,401.16 L111.30,400.42 L111.63,399.65 L111.95,398.86 L112.28,398.05 L112.61,397.22 L112.94,396.37 L113.27,395.50 L113.60,394.60 L113.94,393.69 L114.28,392.75 L114.61,391.79 L114.95,390.81 L115.30,389.81 L115.64,388.79 L115.98,387.75 L116.33,386.69 L116.68,385.60 L117.03,384.50 L117.38,383.37 L117.73,382.23 L118.09,381.06 L118.44,379.88 L118.80,378.67 L119.16,377.45 L119.52,376.20 L119.88,374.94 L120.24,373.66 L120.61,372.36 L120.98,371.04 L121.35,369.70 L121.72,368.35 L122.09,366.98 L122.46,365.59 L122.84,364.18 L123.21,362.76 L123.59,361.33 L123.97,359.87 L124.35,358.40 L124.73,356.92 L125.12,355.42 L125.50,353.91 L125.89,352.38 L126.28,350.84 L126.67,349.28 L127.06,347.71 L127.46,346.13 L127.85,344.54 L128.25,342.94 L128.65,341.32 L129.05,339.70 L129.45,338.06 L129.86,336.41 L130.26,334.76 L130.67,333.09 L131.08,331.42 L131.49,329.73 L131.90,328.04 L132.31,326.34 L132.73,324.63 L133.14,322.92 L133.56,321.20 L133.98,319.47 L134.40,317.74 L134.82,316.00 L135.25,314.25 L135.67,312.50 L136.10,310.75 L136.53,308.99 L136.96,307.23 L137.39,305.47 L137.83,303.70 L138.26,301.93 L138.70,300.16 L139.14,298.38 L139.58,296.61 L140.02,294.83 L140.46,293.05 L140.91,291.28 L141.36,289.50 L141.80,287.72 L142.25,285.94 L142.70,284.16 L143.16,282.39 L143.61,280.61 L144.07,278.84 L144.53,277.06 L144.98,275.29 L145.45,273.53 L145.91,271.76 L146.37,270.00 L146.84,268.24 L147.31,266.48 L147.77,264.73 L148.24,262.98 L148.72,261.24 L149.19,259.50 L149.67,257.77 L150.14,256.03 L150.62,254.31 L151.10,252.59 L151.58,250.87 L152.07,249.16 L152.55,247.46 L153.04,245.76 L153.52,244.07 L154.01,242.38 L154.51,240.71 L155.00,239.03 L155.49,237.37 L155.99,235.71 L156.49,234.06 L156.99,232.41 L157.49,230.77 L157.99,229.14 L158.49,227.52 L159.00,225.90 L159.50,224.30 L160.01,222.70 L160.52,221.11 L161.04,219.52 L161.55,217.95 L162.06,216.38 L162.58,214.82 L163.10,213.27 L163.62,211.73 L164.14,210.19 L164.66,208.67 L165.19,207.15 L165.71,205.65 L166.24,204.15 L166.77,202.66 L167.30,201.18 L167.83,199.71 L168.37,198.24 L168.90,196.79 L169.44,195.34 L169.98,193.91 L170.52,192.48 L171.06,191.07 L171.61,189.66 L172.15,188.26 L172.70,186.87 L173.25,185.49 L173.80,184.12 L174.35,182.76 L174.90,181.41 L175.46,180.06 L176.01,178.73 L176.57,177.40 L177.13,176.09 L177.69,174.78 L178.25,173.49 L178.82,172.20 L179.39,170.92 L179.95,169.65 L180.52,168.39 L181.09,167.14 L181.67,165.90 L182.24,164.67 L182.81,163.45 L183.39,162.24 L183.97,161.03 L184.55,159.84 L185.13,158.65 L185.72,157.47 L186.30,156.31 L186.89,155.15 L187.48,154.00 L188.07,152.86 L188.66,151.72 L189.25,150.60 L189.85,149.49 L190.44,148.38 L191.04,147.28 L191.64,146.20 L192.24,145.12 L192.84,144.05 L193.45,142.98 L194.05,141.93 L194.66,140.89 L195.27,139.85 L195.88,138.82 L196.49,137.80 L197.10,136.79 L197.72,135.79 L198.34,134.79 L198.96,133.81 L199.58,132.83 L200.20,131.86 L200.82,130.89 L201.45,129.94 L202.07,128.99 L202.70,128.06 L203.33,127.12 L203.96,126.20 L204.59,125.29 L205.23,124.38 L205.86,123.48 L206.50,122.59 L207.14,121.70 L207.78,120.83 L208.42,119.96 L209.07,119.09 L209.71,118.24 L210.36,117.39 L211.01,116.55 L211.66,115.72 L212.31,114.89 L212.97,114.07 L213.62,113.26 L214.28,112.46 L214.94,111.66 L215.60,110.87 L216.26,110.08 L216.92,109.31 L217.59,108.53 L218.25,107.77 L218.92,107.01 L219.59,106.26 L220.26,105.52 L220.93,104.78 L221.61,104.05 L222.28,103.32 L222.96,102.60 L223.64,101.89 L224.32,101.18 L225.00,100.48 L225.69,99.79 L226.37,99.10 L227.06,98.42 L227.75,97.74 L228.44,97.07 L229.13,96.41 L229.82,95.75 L230.52,95.10 L231.21,94.45 L231.91,93.81 L232.61,93.17 L233.31,92.54 L234.02,91.92 L234.72,91.30 L235.43,90.68 L236.13,90.07 L236.84,89.47 L237.55,88.87 L238.27,88.28 L238.98,87.69 L239.70,87.11 L240.41,86.53 L241.13,85.96 L241.85,85.39 L242.57,84.83 L243.30,84.27 L244.02,83.72 L244.75,83.17 L245.48,82.63 L246.21,82.09 L246.94,81.56 L247.67,81.03 L248.41,80.51 L249.14,79.99 L249.88,79.47 L250.62,78.96 L251.36,78.45 L252.10,77.95 L252.85,77.46 L253.59,76.96 L254.34,76.47 L255.09,75.99 L255.84,75.51 L256.59,75.03 L257.35,74.56 L258.10,74.09 L258.86,73.63 L259.62,73.17 L260.38,72.71 L261.14,72.26 L261.90,71.81 L262.67,71.37 L263.44,70.93 L264.20,70.49 L264.97,70.06 L265.75,69.63 L266.52,69.21 L267.29,68.79 L268.07,68.37 L268.85,67.95 L269.63,67.54 L270.41,67.14 L271.19,66.73 L271.97,66.33 L272.76,65.94 L273.55,65.54 L274.34,65.15 L275.13,64.77 L275.92,64.38 L276.71,64.00 L277.51,63.63 L278.30,63.25 L279.10,62.88 L279.90,62.52 L280.70,62.15 L281.51,61.79 L282.31,61.43 L283.12,61.08 L283.93,60.73 L284.74,60.38 L285.55,60.03 L286.36,59.69 L287.17,59.35 L287.99,59.01 L288.81,58.68 L289.63,58.35 L290.45,58.02 L291.27,57.69 L292.09,57.37 L292.92,57.05 L293.75,56.73 L294.57,56.42 L295.40,56.11 L296.24,55.80 L297.07,55.49 L297.91,55.18 L298.74,54.88 L299.58,54.58 L300.42,54.29 L301.26,53.99 L302.10,53.70 L302.95,53.41 L303.79,53.12 L304.64,52.84 L305.49,52.56 L306.34,52.28 L307.20,52.00 L308.05,51.72 L308.91,51.45 L309.76,51.18 L310.62,50.91 L311.48,50.64 L312.34,50.38 L313.21,50.12 L314.07,49.86 L314.94,49.60 L315.81,49.34 L316.68,49.09 L317.55,48.84 L318.42,48.59 L319.30,48.34 L320.17,48.10 L321.05,47.85 L321.93,47.61 L322.81,47.37 L323.70,47.14 L324.58,46.90 L325.47,46.67 L326.35,46.44 L327.24,46.21 L328.13,45.98 L329.03,45.75 L329.92,45.53 L330.82,45.31 L331.71,45.08 L332.61,44.87 L333.51,44.65 L334.41,44.43 L335.32,44.22 L336.22,44.01 L337.13,43.80 L338.04,43.59 L338.95,43.38 L339.86,43.18 L340.77,42.97 L341.69,42.77 L342.60,42.57 L343.52,42.37 L344.44,42.17 L345.36,41.98 L346.28,41.78 L347.21,41.59 L348.13,41.40 L349.06,41.21 L349.99,41.02 L350.92,40.84 L351.85,40.65 L352.79,40.47 L353.72,40.29 L354.66,40.11 L355.60,39.93 L356.54,39.75 L357.48,39.57 L358.42,39.40 L359.37,39.22 L360.31,39.05 L361.26,38.88 L362.21,38.71 L363.16,38.54 L364.12,38.37 L365.07,38.21 L366.03,38.04 L366.98,37.88 L367.94,37.72 L368.90,37.56 L369.87,37.40 L370.83,37.24 L371.80,37.08 L372.76,36.93 L373.73,36.77 L374.70,36.62 L375.67,36.46 L376.65,36.31 L377.62,36.16 L378.60,36.01 L379.58,35.87 L380.56,35.72 L381.54,35.57 L382.52,35.43 L383.51,35.29 L384.49,35.14 L385.48,35.00 L386.47,34.86 L387.46,34.72 L388.45,34.58 L389.45,34.45 L390.44,34.31 L391.44,34.18 L392.44,34.04 L393.44,33.91 L394.44,33.78 L395.45,33.65 L396.45,33.52 L397.46,33.39 L398.47,33.26 L399.48,33.13 L400.49,33.01 L401.50,32.88 L402.52,32.76 L403.53,32.63 L404.55,32.51 L405.57,32.39 L406.59,32.27 L407.62,32.15 L408.64,32.03 L409.67,31.91 L410.69,31.79 L411.72,31.68 L412.76,31.56 L413.79,31.45 L414.82,31.33 L415.86,31.22 L416.89,31.11 L417.93,31.00 L418.97,30.89 L420.02,30.78 L421.06,30.67 L422.10,30.56 L423.15,30.45 L424.20,30.35 L425.25,30.24 L426.30,30.13 L427.35,30.03 L428.41,29.93 L429.47,29.82 L430.52,29.72 L431.58,29.62 L432.64,29.52 L433.71,29.42 L434.77,29.32 L435.84,29.22 L436.90,29.12 L437.97,29.03 L439.04,28.93 L440.12,28.83 L441.19,28.74 L442.27,28.65 L443.34,28.55 L444.42,28.46 L445.50,28.37 L446.58,28.27 L447.67,28.18 L448.75,28.09 L449.84,28.00 L450.93,27.91 L452.02,27.82 L453.11,27.74 L454.20,27.65 L455.29,27.56 L456.39,27.48 L457.49,27.39 L458.59,27.31 L459.69,27.22 L460.79,27.14 L461.90,27.05 L463.00,26.97 L464.11,26.89 L465.22,26.81 L466.33,26.73 L467.44,26.65 L468.55,26.57 L469.67,26.49 L470.79,26.41 L471.90,26.33 L473.02,26.25 L474.15,26.18 L475.27,26.10 L476.39,26.02 L477.52,25.95 L478.65,25.87 L479.78,25.80 L480.91,25.72 L482.04,25.65 L483.18,25.58 L484.31,25.50 L485.45,25.43 L486.59,25.36 L487.73,25.29 L488.87,25.22 L490.02,25.15 L491.16,25.08 L492.31,25.01 L493.46,24.94 L494.61,24.87 L495.76,24.80 L496.91,24.74 L498.07,24.67 L499.22,24.60 L500.38,24.54 L501.54,24.47 L502.70,24.41 L503.87,24.34 L505.03,24.28 L506.20,24.21 L507.36,24.15 L508.53,24.09 L509.70,24.02 L510.88,23.96 L512.05,23.90 L513.23,23.84 L514.40,23.78 L515.58,23.72 L516.76,23.66 L517.95,23.60 L519.13,23.54 L520.32,23.48 L521.50,23.42 L522.69,23.36 L523.88,23.30 L525.07,23.25 L526.27,23.19 L527.46,23.13 L528.66,23.07 L529.85,23.02 L531.05,22.96 L532.26,22.91 L533.46,22.85 L534.66,22.80 L535.87,22.74 L537.08,22.69 L538.29,22.64 L539.50,22.58 L540.71,22.53 L541.92,22.48 L543.14,22.42 L544.36,22.37 L545.57,22.32 L546.79,22.27 L548.02,22.22 L549.24,22.17 L550.46,22.12 L551.69,22.07 L552.92,22.02 L554.15,21.97 L555.38,21.92 L556.61,21.87 L557.85,21.82 L559.08,21.77 L560.32,21.73 L561.56,21.68 L562.80,21.63 L564.05,21.58 L565.29,21.54 L566.54,21.49 L567.78,21.45 L569.03,21.40 L570.28,21.35 L571.53,21.31 L572.79,21.26 L574.04,21.22 L575.30,21.17 L576.56,21.13 L577.82,21.09 L579.08,21.04 L580.34,21.00 L581.61,20.96 L582.88,20.91 L584.14,20.87 L585.41,20.83 L586.68,20.79 L587.96,20.75 L589.23,20.70 L590.51,20.66 L591.79,20.62 L593.06,20.58 L594.35,20.54 L595.63,20.50 L596.91,20.46 L598.20,20.42 L599.48,20.38 L600.77,20.34 L602.06,20.30 L603.36,20.26 L604.65,20.22 L605.94,20.19 L607.24,20.15 L608.54,20.11 L609.84,20.07 L611.14,20.04 L612.44,20.00 L613.75,19.96 L615.05,19.92 L616.36,19.89 L617.67,19.85 L618.98,19.82 L620.30,19.78 L621.61,19.74 L622.93,19.71 L624.24,19.67 L625.56,19.64 L626.88,19.60 L628.21,19.57 L629.53,19.53 L630.85,19.50 L632.18,19.47 L633.51,19.43 L634.84,19.40 L636.17,19.36 L637.51,19.33 L638.84,19.30 L640.18,19.27 L641.51,19.23 L642.85,19.20 L644.20,19.17 L645.54,19.14 L646.88,19.10 L648.23,19.07 L649.58,19.04 L650.93,19.01 L652.28,18.98 L653.63,18.95 L654.98,18.92 L656.34,18.89 L657.70,18.85 L659.06,18.82 L660.42,18.79 L661.78,18.76 L663.14,18.73 L664.51,18.70 L665.87,18.68 L667.24,18.65 L668.61,18.62 L669.98,18.59 L671.36,18.56 L672.73,18.53 L674.11,18.50 L675.49,18.47 L676.86,18.45 L678.25,18.42 L679.63,18.39 L681.01,18.36 L682.40,18.33 L683.79,18.31 L685.18,18.28 L686.57,18.25 L687.96,18.23 L689.35,18.20 L690.75,18.17 L692.14,18.15 L693.54,18.12 L694.94,18.09 L696.35,18.07 L697.75,18.04 L699.15,18.02 L700.56,17.99 L701.97,17.97 L703.38,17.94 L704.79,17.91 L706.20,17.89 L707.62,17.86 L709.03,17.84 L710.45,17.82 L711.87,17.79 L713.29,17.77 L714.71,17.74 L716.14,17.72 L717.56,17.69 L718.99,17.67 L720.42,17.65 L721.85,17.62" stroke="#0000ff" stroke-width="2.7" stroke-dasharray="24 23.72"/>
<path d="M720.50,17.65 L722.68,17.61 L724.85,17.57 L727.03,17.54 L729.20,17.50 L731.38,17.47 L733.56,17.44 L735.73,17.40 L737.91,17.37 L740.08,17.34 L742.26,17.30 L744.44,17.27" stroke="#0000ff" stroke-width="2.7" stroke-dasharray="24 23.72"/>
<path d="M76.75,417.80 L78.50,417.80 L78.50,417.80 L78.50,417.80 L78.51,417.80 L78.51,417.80 L78.52,417.80 L78.53,417.80 L78.54,417.80 L78.55,417.80 L78.56,417.80 L78.58,417.80 L78.60,417.80 L78.61,417.80 L78.63,417.80 L78.66,417.80 L78.68,417.80 L78.70,417.80 L78.73,417.80 L78.76,417.80 L78.79,417.80 L78.82,417.80 L78.85,417.80 L78.89,417.80 L78.92,417.80 L78.96,417.80 L79.00,417.80 L79.04,417.80 L79.08,417.80 L79.12,417.80 L79.17,417.80 L79.22,417.80 L79.26,417.80 L79.32,417.80 L79.37,417.80 L79.42,417.80 L79.48,417.80 L79.53,417.80 L79.59,417.80 L79.65,417.80 L79.71,417.80 L79.77,417.80 L79.84,417.80 L79.90,417.80 L79.97,417.80 L80.04,417.80 L80.11,417.80 L80.18,417.80 L80.26,417.80 L80.33,417.80 L80.41,417.80 L80.49,417.80 L80.57,417.80 L80.65,417.80 L80.74,417.80 L80.82,417.80 L80.91,417.80 L81.00,417.80 L81.09,417.80 L81.18,417.80 L81.27,417.80 L81.37,417.80 L81.46,417.80 L81.56,417.80 L81.66,417.80 L81.76,417.80 L81.86,417.80 L81.97,417.80 L82.07,417.80 L82.18,417.80 L82.29,417.80 L82.40,417.80 L82.51,417.80 L82.63,417.80 L82.74,417.80 L82.86,417.80 L82.98,417.80 L83.10,417.80 L83.22,417.80 L83.34,417.80 L83.47,417.80 L83.59,417.80 L83.72,417.80 L83.85,417.80 L83.98,417.80 L84.12,417.80 L84.25,417.80 L84.39,417.80 L84.53,417.80 L84.66,417.80 L84.81,417.80 L84.95,417.80 L85.09,417.80 L85.24,417.80 L85.38,417.80 L85.53,417.80 L85.68,417.80 L85.84,417.80 L85.99,417.80 L86.15,417.80 L86.30,417.80 L86.46,417.80 L86.62,417.80 L86.78,417.80 L86.95,417.80 L87.11,417.80 L87.28,417.80 L87.44,417.80 L87.61,417.80 L87.78,417.80 L87.96,417.80 L88.13,417.80 L88.31,417.80 L88.49,417.80 L88.66,417.80 L88.85,417.80 L89.03,417.80 L89.21,417.80 L89.40,417.80 L89.58,417.80 L89.77,417.80 L89.96,417.80 L90.15,417.80 L90.35,417.80 L90.54,417.80 L90.74,417.80 L90.94,417.80 L91.14,417.80 L91.34,417.80 L91.54,417.80 L91.75,417.80 L91.95,417.80 L92.16,417.80 L92.37,417.80 L92.58,417.80 L92.79,417.80 L93.01,417.80 L93.22,417.80 L93.44,417.80 L93.66,417.80 L93.88,417.80 L94.10,417.79 L94.33,417.79 L94.55,417.79 L94.78,417.79 L95.01,417.79 L95.24,417.79 L95.47,417.79 L95.70,417.78 L95.94,417.78 L96.17,417.78 L96.41,417.77 L96.65,417.77 L96.89,417.76 L97.13,417.76 L97.38,417.75 L97.62,417.75 L97.87,417.74 L98.12,417.73 L98.37,417.72 L98.62,417.71 L98.88,417.70 L99.13,417.69 L99.39,417.67 L99.65,417.66 L99.91,417.64 L100.17,417.62 L100.44,417.60 L100.70,417.58 L100.97,417.55 L101.24,417.52 L101.51,417.49 L101.78,417.46 L102.05,417.43 L102.32,417.39 L102.60,417.35 L102.88,417.30 L103.16,417.26 L103.44,417.20 L103.72,417.15 L104.01,417.09 L104.29,417.03 L104.58,416.96 L104.87,416.89 L105.16,416.81 L105.45,416.73 L105.74,416.64 L106.04,416.54 L106.34,416.44 L106.63,416.34 L106.93,416.23 L107.24,416.11 L107.54,415.98 L107.84,415.85 L108.15,415.71 L108.46,415.56 L108.77,415.41 L109.08,415.24 L109.39,415.07 L109.71,414.89 L110.02,414.70 L110.34,414.50 L110.66,414.29 L110.98,414.07 L111.30,413.85 L111.63,413.61 L111.95,413.36 L112.28,413.10 L112.61,412.83 L112.94,412.55 L113.27,412.26 L113.60,411.95 L113.94,411.63 L114.28,411.31 L114.61,410.96 L114.95,410.61 L115.30,410.24 L115.64,409.86 L115.98,409.47 L116.33,409.06 L116.68,408.64 L117.03,408.21 L117.38,407.76 L117.73,407.30 L118.09,406.82 L118.44,406.33 L118.80,405.83 L119.16,405.31 L119.52,404.77 L119.88,404.22 L120.24,403.65 L120.61,403.07 L120.98,402.48 L121.35,401.87 L121.72,401.24 L122.09,400.59 L122.46,399.94 L122.84,399.26 L123.21,398.57 L123.59,397.86 L123.97,397.14 L124.35,396.40 L124.73,395.65 L125.12,394.88 L125.50,394.09 L125.89,393.29 L126.28,392.47 L126.67,391.64 L127.06,390.79 L127.46,389.92 L127.85,389.04 L128.25,388.14 L128.65,387.23 L129.05,386.30 L129.45,385.35 L129.86,384.39 L130.26,383.42 L130.67,382.43 L131.08,381.42 L131.49,380.40 L131.90,379.37 L132.31,378.32 L132.73,377.25 L133.14,376.17 L133.56,375.08 L133.98,373.97 L134.40,372.85 L134.82,371.71 L135.25,370.56 L135.67,369.40 L136.10,368.23 L136.53,367.04 L136.96,365.84 L137.39,364.62 L137.83,363.39 L138.26,362.16 L138.70,360.90 L139.14,359.64 L139.58,358.37 L140.02,357.08 L140.46,355.79 L140.91,354.48 L141.36,353.16 L141.80,351.83 L142.25,350.49 L142.70,349.14 L143.16,347.79 L143.61,346.42 L144.07,345.04 L144.53,343.65 L144.98,342.26 L145.45,340.86 L145.91,339.45 L146.37,338.03 L146.84,336.60 L147.31,335.17 L147.77,333.72 L148.24,332.28 L148.72,330.82 L149.19,329.36 L149.67,327.89 L150.14,326.42 L150.62,324.94 L151.10,323.46 L151.58,321.97 L152.07,320.47 L152.55,318.98 L153.04,317.47 L153.52,315.96 L154.01,314.45 L154.51,312.94 L155.00,311.42 L155.49,309.90 L155.99,308.38 L156.49,306.85 L156.99,305.32 L157.49,303.79 L157.99,302.26 L158.49,300.72 L159.00,299.18 L159.50,297.65 L160.01,296.11 L160.52,294.57 L161.04,293.03 L161.55,291.48 L162.06,289.94 L162.58,288.40 L163.10,286.86 L163.62,285.32 L164.14,283.78 L164.66,282.24 L165.19,280.70 L165.71,279.17 L166.24,277.63 L166.77,276.09 L167.30,274.56 L167.83,273.03 L168.37,271.50 L168.90,269.98 L169.44,268.45 L169.98,266.93 L170.52,265.41 L171.06,263.89 L171.61,262.38 L172.15,260.87 L172.70,259.36 L173.25,257.86 L173.80,256.36 L174.35,254.86 L174.90,253.37 L175.46,251.88 L176.01,250.40 L176.57,248.92 L177.13,247.44 L177.69,245.97 L178.25,244.50 L178.82,243.04 L179.39,241.58 L179.95,240.13 L180.52,238.68 L181.09,237.24 L181.67,235.80 L182.24,234.37 L182.81,232.94 L183.39,231.52 L183.97,230.10 L184.55,228.69 L185.13,227.29 L185.72,225.89 L186.30,224.50 L186.89,223.11 L187.48,221.73 L188.07,220.35 L188.66,218.98 L189.25,217.62 L189.85,216.26 L190.44,214.91 L191.04,213.57 L191.64,212.23 L192.24,210.90 L192.84,209.57 L193.45,208.25 L194.05,206.94 L194.66,205.64 L195.27,204.34 L195.88,203.05 L196.49,201.76 L197.10,200.48 L197.72,199.21 L198.34,197.94 L198.96,196.68 L199.58,195.43 L200.20,194.19 L200.82,192.95 L201.45,191.72 L202.07,190.50 L202.70,189.28 L203.33,188.07 L203.96,186.86 L204.59,185.67 L205.23,184.48 L205.86,183.30 L206.50,182.12 L207.14,180.95 L207.78,179.79 L208.42,178.64 L209.07,177.49 L209.71,176.35 L210.36,175.21 L211.01,174.09 L211.66,172.97 L212.31,171.86 L212.97,170.75 L213.62,169.65 L214.28,168.56 L214.94,167.47 L215.60,166.40 L216.26,165.33 L216.92,164.26 L217.59,163.20 L218.25,162.15 L218.92,161.11 L219.59,160.07 L220.26,159.04 L220.93,158.02 L221.61,157.01 L222.28,156.00 L222.96,154.99 L223.64,154.00 L224.32,153.01 L225.00,152.03 L225.69,151.05 L226.37,150.08 L227.06,149.12 L227.75,148.16 L228.44,147.21 L229.13,146.27 L229.82,145.33 L230.52,144.40 L231.21,143.48 L231.91,142.56 L232.61,141.65 L233.31,140.75 L234.02,139.85 L234.72,138.96 L235.43,138.08 L236.13,137.20 L236.84,136.32 L237.55,135.46 L238.27,134.60 L238.98,133.74 L239.70,132.90 L240.41,132.05 L241.13,131.22 L241.85,130.39 L242.57,129.56 L243.30,128.75 L244.02,127.94 L244.75,127.13 L245.48,126.33 L246.21,125.53 L246.94,124.75 L247.67,123.96 L248.41,123.19 L249.14,122.42 L249.88,121.65 L250.62,120.89 L251.36,120.14 L252.10,119.39 L252.85,118.64 L253.59,117.91 L254.34,117.17 L255.09,116.45 L255.84,115.72 L256.59,115.01 L257.35,114.30 L258.10,113.59 L258.86,112.89 L259.62,112.20 L260.38,111.51 L261.14,110.82 L261.90,110.14 L262.67,109.47 L263.44,108.80 L264.20,108.13 L264.97,107.47 L265.75,106.82 L266.52,106.17 L267.29,105.52 L268.07,104.88 L268.85,104.25 L269.63,103.62 L270.41,102.99 L271.19,102.37 L271.97,101.76 L272.76,101.15 L273.55,100.54 L274.34,99.94 L275.13,99.34 L275.92,98.75 L276.71,98.16 L277.51,97.57 L278.30,96.99 L279.10,96.42 L279.90,95.85 L280.70,95.28 L281.51,94.72 L282.31,94.16 L283.12,93.60 L283.93,93.05 L284.74,92.51 L285.55,91.97 L286.36,91.43 L287.17,90.90 L287.99,90.37 L288.81,89.84 L289.63,89.32 L290.45,88.80 L291.27,88.29 L292.09,87.78 L292.92,87.27 L293.75,86.77 L294.57,86.27 L295.40,85.78 L296.24,85.29 L297.07,84.80 L297.91,84.32 L298.74,83.84 L299.58,83.36 L300.42,82.89 L301.26,82.42 L302.10,81.96 L302.95,81.50 L303.79,81.04 L304.64,80.58 L305.49,80.13 L306.34,79.69 L307.20,79.24 L308.05,78.80 L308.91,78.36 L309.76,77.93 L310.62,77.50 L311.48,77.07 L312.34,76.65 L313.21,76.22 L314.07,75.81 L314.94,75.39 L315.81,74.98 L316.68,74.57 L317.55,74.16 L318.42,73.76 L319.30,73.36 L320.17,72.97 L321.05,72.57 L321.93,72.18 L322.81,71.79 L323.70,71.41 L324.58,71.03 L325.47,70.65 L326.35,70.27 L327.24,69.90 L328.13,69.53 L329.03,69.16 L329.92,68.80 L330.82,68.43 L331.71,68.07 L332.61,67.72 L333.51,67.36 L334.41,67.01 L335.32,66.66 L336.22,66.32 L337.13,65.97 L338.04,65.63 L338.95,65.29 L339.86,64.96 L340.77,64.62 L341.69,64.29 L342.60,63.96 L343.52,63.64 L344.44,63.31 L345.36,62.99 L346.28,62.67 L347.21,62.35 L348.13,62.04 L349.06,61.73 L349.99,61.42 L350.92,61.11 L351.85,60.81 L352.79,60.50 L353.72,60.20 L354.66,59.90 L355.60,59.61 L356.54,59.31 L357.48,59.02 L358.42,58.73 L359.37,58.44 L360.31,58.16 L361.26,57.88 L362.21,57.59 L363.16,57.31 L364.12,57.04 L365.07,56.76 L366.03,56.49 L366.98,56.22 L367.94,55.95 L368.90,55.68 L369.87,55.42 L370.83,55.15 L371.80,54.89 L372.76,54.63 L373.73,54.37 L374.70,54.12 L375.67,53.86 L376.65,53.61 L377.62,53.36 L378.60,53.11 L379.58,52.87 L380.56,52.62 L381.54,52.38 L382.52,52.14 L383.51,51.90 L384.49,51.66 L385.48,51.42 L386.47,51.19 L387.46,50.95 L388.45,50.72 L389.45,50.49 L390.44,50.27 L391.44,50.04 L392.44,49.81 L393.44,49.59 L394.44,49.37 L395.45,49.15 L396.45,48.93 L397.46,48.71 L398.47,48.50 L399.48,48.29 L400.49,48.07 L401.50,47.86 L402.52,47.65 L403.53,47.45 L404.55,47.24 L405.57,47.03 L406.59,46.83 L407.62,46.63 L408.64,46.43 L409.67,46.23 L410.69,46.03 L411.72,45.83 L412.76,45.64 L413.79,45.45 L414.82,45.25 L415.86,45.06 L416.89,44.87 L417.93,44.68 L418.97,44.50 L420.02,44.31 L421.06,44.13 L422.10,43.94 L423.15,43.76 L424.20,43.58 L425.25,43.40 L426.30,43.22 L427.35,43.05 L428.41,42.87 L429.47,42.70 L430.52,42.52 L431.58,42.35 L432.64,42.18 L433.71,42.01 L434.77,41.84 L435.84,41.68 L436.90,41.51 L437.97,41.35 L439.04,41.18 L440.12,41.02 L441.19,40.86 L442.27,40.70 L443.34,40.54 L444.42,40.38 L445.50,40.22 L446.58,40.06 L447.67,39.91 L448.75,39.75 L449.84,39.60 L450.93,39.45 L452.02,39.30 L453.11,39.15 L454.20,39.00 L455.29,38.85 L456.39,38.70 L457.49,38.56 L458.59,38.41 L459.69,38.27 L460.79,38.13 L461.90,37.98 L463.00,37.84 L464.11,37.70 L465.22,37.56 L466.33,37.42 L467.44,37.29 L468.55,37.15 L469.67,37.01 L470.79,36.88 L471.90,36.75 L473.02,36.61 L474.15,36.48 L475.27,36.35 L476.39,36.22 L477.52,36.09 L478.65,35.96 L479.78,35.83 L480.91,35.71 L482.04,35.58 L483.18,35.46 L484.31,35.33 L485.45,35.21 L486.59,35.08 L487.73,34.96 L488.87,34.84 L490.02,34.72 L491.16,34.60 L492.31,34.48 L493.46,34.36 L494.61,34.25 L495.76,34.13 L496.91,34.01 L498.07,33.90 L499.22,33.78 L500.38,33.67 L501.54,33.56 L502.70,33.45 L503.87,33.33 L505.03,33.22 L506.20,33.11 L507.36,33.00 L508.53,32.90 L509.70,32.79 L510.88,32.68 L512.05,32.57 L513.23,32.47 L514.40,32.36 L515.58,32.26 L516.76,32.15 L517.95,32.05 L519.13,31.95 L520.32,31.85 L521.50,31.75 L522.69,31.65 L523.88,31.55 L525.07,31.45 L526.27,31.35 L527.46,31.25 L528.66,31.15 L529.85,31.05 L531.05,30.96 L532.26,30.86 L533.46,30.77 L534.66,30.67 L535.87,30.58 L537.08,30.49 L538.29,30.39 L539.50,30.30 L540.71,30.21 L541.92,30.12 L543.14,30.03 L544.36,29.94 L545.57,29.85 L546.79,29.76 L548.02,29.67 L549.24,29.59 L550.46,29.50 L551.69,29.41 L552.92,29.33 L554.15,29.24 L555.38,29.16 L556.61,29.07 L557.85,28.99 L559.08,28.90 L560.32,28.82 L561.56,28.74 L562.80,28.66 L564.05,28.58 L565.29,28.49 L566.54,28.41 L567.78,28.33 L569.03,28.25 L570.28,28.18 L571.53,28.10 L572.79,28.02 L574.04,27.94 L575.30,27.87 L576.56,27.79 L577.82,27.71 L579.08,27.64 L580.34,27.56 L581.61,27.49 L582.88,27.41 L584.14,27.34 L585.41,27.27 L586.68,27.19 L587.96,27.12 L589.23,27.05 L590.51,26.98 L591.79,26.91 L593.06,26.83 L594.35,26.76 L595.63,26.69 L596.91,26.62 L598.20,26.56 L599.48,26.49 L600.77,26.42 L602.06,26.35 L603.36,26.28 L604.65,26.22 L605.94,26.15 L607.24,26.08 L608.54,26.02 L609.84,25.95 L611.14,25.89 L612.44,25.82 L613.75,25.76 L615.05,25.69 L616.36,25.63 L617.67,25.57 L618.98,25.50 L620.30,25.44 L621.61,25.38 L622.93,25.32 L624.24,25.26 L625.56,25.19 L626.88,25.13 L628.21,25.07 L629.53,25.01 L630.85,24.95 L632.18,24.89 L633.51,24.84 L634.84,24.78 L636.17,24.72 L637.51,24.66 L638.84,24.60 L640.18,24.55 L641.51,24.49 L642.85,24.43 L644.20,24.38 L645.54,24.32 L646.88,24.26 L648.23,24.21 L649.58,24.15 L650.93,24.10 L652.28,24.04 L653.63,23.99 L654.98,23.94 L656.34,23.88 L657.70,23.83 L659.06,23.78 L660.42,23.72 L661.78,23.67 L663.14,23.62 L664.51,23.57 L665.87,23.52 L667.24,23.47 L668.61,23.42 L669.98,23.36 L671.36,23.31 L672.73,23.26 L674.11,23.21 L675.49,23.17 L676.86,23.12 L678.25,23.07 L679.63,23.02 L681.01,22.97 L682.40,22.92 L683.79,22.87 L685.18,22.83 L686.57,22.78 L687.96,22.73 L689.35,22.69 L690.75,22.64 L692.14,22.59 L693.54,22.55 L694.94,22.50 L696.35,22.46 L697.75,22.41 L699.15,22.37 L700.56,22.32 L701.97,22.28 L703.38,22.23 L704.79,22.19 L706.20,22.14 L707.62,22.10 L709.03,22.06 L710.45,22.01 L711.87,21.97 L713.29,21.93 L714.71,21.89 L716.14,21.85 L717.56,21.80 L718.99,21.76 L720.42,21.72 L721.85,21.68" stroke="#ff0000" stroke-width="3.5" stroke-dasharray="14 10.92"/>
<path d="M720.10,21.73 L722.31,21.67 L724.52,21.60 L726.74,21.54 L728.95,21.48 L731.16,21.42 L733.37,21.36 L735.59,21.30 L737.80,21.24 L740.01,21.18 L742.22,21.12 L744.44,21.06" stroke="#ff0000" stroke-width="3.5" stroke-dasharray="14 10.92"/>
</g>
<g><line x1="78.50" y1="417.8" x2="78.50" y2="410.2" stroke="#222" stroke-width="1.1"/>
<line x1="78.50" y1="8.3" x2="78.50" y2="14.5" stroke="#111" stroke-width="0.6"/>
<line x1="119.86" y1="417.8" x2="119.86" y2="413.0" stroke="#222" stroke-width="1.1"/>
<line x1="119.86" y1="8.3" x2="119.86" y2="12.8" stroke="#111" stroke-width="0.6"/>
<line x1="161.22" y1="417.8" x2="161.22" y2="413.0" stroke="#222" stroke-width="1.1"/>
<line x1="161.22" y1="8.3" x2="161.22" y2="12.8" stroke="#111" stroke-width="0.6"/>
<line x1="202.59" y1="417.8" x2="202.59" y2="413.0" stroke="#222" stroke-width="1.1"/>
<line x1="202.59" y1="8.3" x2="202.59" y2="12.8" stroke="#111" stroke-width="0.6"/>
<line x1="243.95" y1="417.8" x2="243.95" y2="410.2" stroke="#222" stroke-width="1.1"/>
<line x1="243.95" y1="8.3" x2="243.95" y2="14.5" stroke="#111" stroke-width="0.6"/>
<line x1="285.31" y1="417.8" x2="285.31" y2="413.0" stroke="#222" stroke-width="1.1"/>
<line x1="285.31" y1="8.3" x2="285.31" y2="12.8" stroke="#111" stroke-width="0.6"/>
<line x1="326.67" y1="417.8" x2="326.67" y2="413.0" stroke="#222" stroke-width="1.1"/>
<line x1="326.67" y1="8.3" x2="326.67" y2="12.8" stroke="#111" stroke-width="0.6"/>
<line x1="368.04" y1="417.8" x2="368.04" y2="413.0" stroke="#222" stroke-width="1.1"/>
<line x1="368.04" y1="8.3" x2="368.04" y2="12.8" stroke="#111" stroke-width="0.6"/>
<line x1="409.40" y1="417.8" x2="409.40" y2="410.2" stroke="#222" stroke-width="1.1"/>
<line x1="409.40" y1="8.3" x2="409.40" y2="14.5" stroke="#111" stroke-width="0.6"/>
<line x1="450.76" y1="417.8" x2="450.76" y2="413.0" stroke="#222" stroke-width="1.1"/>
<line x1="450.76" y1="8.3" x2="450.76" y2="12.8" stroke="#111" stroke-width="0.6"/>
<line x1="492.12" y1="417.8" x2="492.12" y2="413.0" stroke="#222" stroke-width="1.1"/>
<line x1="492.12" y1="8.3" x2="492.12" y2="12.8" stroke="#111" stroke-width="0.6"/>
<line x1="533.49" y1="417.8" x2="533.49" y2="413.0" stroke="#222" stroke-width="1.1"/>
<line x1="533.49" y1="8.3" x2="533.49" y2="12.8" stroke="#111" stroke-width="0.6"/>
<line x1="574.85" y1="417.8" x2="574.85" y2="410.2" stroke="#222" stroke-width="1.1"/>
<line x1="574.85" y1="8.3" x2="574.85" y2="14.5" stroke="#111" stroke-width="0.6"/>
<line x1="616.21" y1="417.8" x2="616.21" y2="413.0" stroke="#222" stroke-width="1.1"/>
<line x1="616.21" y1="8.3" x2="616.21" y2="12.8" stroke="#111" stroke-width="0.6"/>
<line x1="657.57" y1="417.8" x2="657.57" y2="413.0" stroke="#222" stroke-width="1.1"/>
<line x1="657.57" y1="8.3" x2="657.57" y2="12.8" stroke="#111" stroke-width="0.6"/>
<line x1="698.94" y1="417.8" x2="698.94" y2="413.0" stroke="#222" stroke-width="1.1"/>
<line x1="698.94" y1="8.3" x2="698.94" y2="12.8" stroke="#111" stroke-width="0.6"/>
<line x1="740.30" y1="417.8" x2="740.30" y2="410.2" stroke="#222" stroke-width="1.1"/>
<line x1="740.30" y1="8.3" x2="740.30" y2="14.5" stroke="#111" stroke-width="0.6"/>
<line x1="78.5" y1="417.80" x2="86.1" y2="417.80" stroke="#111" stroke-width="1.1"/>
<line x1="740.3" y1="417.80" x2="733.9" y2="417.80" stroke="#444" stroke-width="0.6"/>
<line x1="78.5" y1="397.53" x2="83.3" y2="397.53" stroke="#111" stroke-width="1.1"/>
<line x1="740.3" y1="397.53" x2="735.5999999999999" y2="397.53" stroke="#444" stroke-width="0.6"/>
<line x1="78.5" y1="377.25" x2="83.3" y2="377.25" stroke="#111" stroke-width="1.1"/>
<line x1="740.3" y1="377.25" x2="735.5999999999999" y2="377.25" stroke="#444" stroke-width="0.6"/>
<line x1="78.5" y1="356.98" x2="83.3" y2="356.98" stroke="#111" stroke-width="1.1"/>
<line x1="740.3" y1="356.98" x2="735.5999999999999" y2="356.98" stroke="#444" stroke-width="0.6"/>
<line x1="78.5" y1="336.70" x2="86.1" y2="336.70" stroke="#111" stroke-width="1.1"/>
<line x1="740.3" y1="336.70" x2="733.9" y2="336.70" stroke="#444" stroke-width="0.6"/>
<line x1="78.5" y1="316.43" x2="83.3" y2="316.43" stroke="#111" stroke-width="1.1"/>
<line x1="740.3" y1="316.43" x2="735.5999999999999" y2="316.43" stroke="#444" stroke-width="0.6"/>
<line x1="78.5" y1="296.15" x2="83.3" y2="296.15" stroke="#111" stroke-width="1.1"/>
<line x1="740.3" y1="296.15" x2="735.5999999999999" y2="296.15" stroke="#444" stroke-width="0.6"/>
<line x1="78.5" y1="275.88" x2="83.3" y2="275.88" stroke="#111" stroke-width="1.1"/>
<line x1="740.3" y1="275.88" x2="735.5999999999999" y2="275.88" stroke="#444" stroke-width="0.6"/>
<line x1="78.5" y1="255.60" x2="86.1" y2="255.60" stroke="#111" stroke-width="1.1"/>
<line x1="740.3" y1="255.60" x2="733.9" y2="255.60" stroke="#444" stroke-width="0.6"/>
<line x1="78.5" y1="235.33" x2="83.3" y2="235.33" stroke="#111" stroke-width="1.1"/>
<line x1="740.3" y1="235.33" x2="735.5999999999999" y2="235.33" stroke="#444" stroke-width="0.6"/>
<line x1="78.5" y1="215.05" x2="83.3" y2="215.05" stroke="#111" stroke-width="1.1"/>
<line x1="740.3" y1="215.05" x2="735.5999999999999" y2="215.05" stroke="#444" stroke-width="0.6"/>
<line x1="78.5" y1="194.78" x2="83.3" y2="194.78" stroke="#111" stroke-width="1.1"/>
<line x1="740.3" y1="194.78" x2="735.5999999999999" y2="194.78" stroke="#444" stroke-width="0.6"/>
<line x1="78.5" y1="174.50" x2="86.1" y2="174.50" stroke="#111" stroke-width="1.1"/>
<line x1="740.3" y1="174.50" x2="733.9" y2="174.50" stroke="#444" stroke-width="0.6"/>
<line x1="78.5" y1="154.23" x2="83.3" y2="154.23" stroke="#111" stroke-width="1.1"/>
<line x1="740.3" y1="154.23" x2="735.5999999999999" y2="154.23" stroke="#444" stroke-width="0.6"/>
<line x1="78.5" y1="133.95" x2="83.3" y2="133.95" stroke="#111" stroke-width="1.1"/>
<line x1="740.3" y1="133.95" x2="735.5999999999999" y2="133.95" stroke="#444" stroke-width="0.6"/>
<line x1="78.5" y1="113.68" x2="83.3" y2="113.68" stroke="#111" stroke-width="1.1"/>
<line x1="740.3" y1="113.68" x2="735.5999999999999" y2="113.68" stroke="#444" stroke-width="0.6"/>
<line x1="78.5" y1="93.40" x2="86.1" y2="93.40" stroke="#111" stroke-width="1.1"/>
<line x1="740.3" y1="93.40" x2="733.9" y2="93.40" stroke="#444" stroke-width="0.6"/>
<line x1="78.5" y1="73.12" x2="83.3" y2="73.12" stroke="#111" stroke-width="1.1"/>
<line x1="740.3" y1="73.12" x2="735.5999999999999" y2="73.12" stroke="#444" stroke-width="0.6"/>
<line x1="78.5" y1="52.85" x2="83.3" y2="52.85" stroke="#111" stroke-width="1.1"/>
<line x1="740.3" y1="52.85" x2="735.5999999999999" y2="52.85" stroke="#444" stroke-width="0.6"/>
<line x1="78.5" y1="32.57" x2="83.3" y2="32.57" stroke="#111" stroke-width="1.1"/>
<line x1="740.3" y1="32.57" x2="735.5999999999999" y2="32.57" stroke="#444" stroke-width="0.6"/>
<line x1="78.5" y1="12.30" x2="86.1" y2="12.30" stroke="#111" stroke-width="1.1"/>
<line x1="740.3" y1="12.30" x2="733.9" y2="12.30" stroke="#444" stroke-width="0.6"/></g>
<g fill="none" stroke-linecap="square">
<line x1="78.5" y1="417.85" x2="740.3" y2="417.85" stroke="#000" stroke-opacity="0.72" stroke-width="1.8"/>
<line x1="78.3" y1="8.3" x2="78.3" y2="417.8" stroke="#000" stroke-opacity="0.8" stroke-width="1.5"/>
<line x1="78.5" y1="8.3" x2="740.3" y2="8.3" stroke="#000" stroke-width="1.3"/>
<line x1="740.3" y1="8.3" x2="740.3" y2="417.8" stroke="#000" stroke-width="1.3"/>
</g>
<text x="71.6" y="424.80" font-size="25.0" text-anchor="end">0.0</text>
<text x="71.6" y="343.70" font-size="25.0" text-anchor="end">0.2</text>
<text x="71.6" y="262.60" font-size="25.0" text-anchor="end">0.4</text>
<text x="71.6" y="181.50" font-size="25.0" text-anchor="end">0.6</text>
<text x="71.6" y="100.40" font-size="25.0" text-anchor="end">0.8</text>
<text x="71.6" y="19.30" font-size="25.0" text-anchor="end">1.0</text>
<text x="78.40" y="443.8" font-size="25.0" text-anchor="middle">0</text>
<text x="243.85" y="443.8" font-size="25.0" text-anchor="middle">2</text>
<text x="409.30" y="443.8" font-size="25.0" text-anchor="middle">4</text>
<text x="574.75" y="443.8" font-size="25.0" text-anchor="middle">6</text>
<text x="740.20" y="443.8" font-size="25.0" text-anchor="middle">8</text>
<text x="410.3" y="481.2" font-size="24.7" text-anchor="middle" font-style="italic">ω</text>
<text transform="translate(19.3,212.6) rotate(-90)" font-size="25.1" text-anchor="middle"><tspan font-style="italic">T</tspan><tspan font-style="italic" font-size="17.7" dy="4.4">l</tspan><tspan dy="-4.4"> (</tspan><tspan font-style="italic">ω</tspan>)</text>
<text x="325.7" y="323.6" font-size="24.7" text-anchor="middle">e=0.02, s=0.001</text>
<text x="325" y="359.9" font-size="24.7" text-anchor="middle">l=1</text>
<text x="579" y="165" font-size="24.8"><tspan font-style="italic">M</tspan><tspan font-size="17.4" dy="4.3" dx="-1.3">ADM</tspan></text>
<line x1="535" y1="198.0" x2="618.3" y2="198.0" stroke="#ff00ff" stroke-width="3.3"/>
<line x1="535" y1="240.7" x2="616.0" y2="240.7" stroke="#00ff00" stroke-width="3.3" stroke-dasharray="5 3.30"/>
<line x1="535" y1="283.6" x2="618.3" y2="283.6" stroke="#0000ff" stroke-width="2.7" stroke-dasharray="24 23.72"/>
<line x1="535" y1="326.5" x2="618.3" y2="326.5" stroke="#ff0000" stroke-width="3.5" stroke-dasharray="14 10.92"/>
<text x="630.5" y="206.40" font-size="24.7">1.0</text>
<text x="630.5" y="249.10" font-size="24.7">0.5</text>
<text x="630.5" y="292.00" font-size="24.7">0.2</text>
<text x="630.5" y="334.90" font-size="24.7">0.15</text>
</svg></body></html>
